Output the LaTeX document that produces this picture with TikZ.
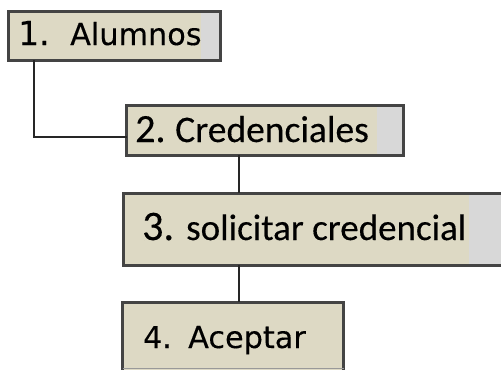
\documentclass[tikz,border=0pt]{standalone}
\usepackage{fontspec}
\setmainfont[FakeBold=0.3]{Carlito}
\newfontfamily\dvs[FakeBold=0.25]{DejaVu Sans}
\definecolor{beige}{HTML}{DDD9C4}
\definecolor{graybar}{HTML}{D8D8D8}
\definecolor{edge}{HTML}{444444}
\begin{document}
\begin{tikzpicture}[x=1pt,y=-1pt,
  box/.style={draw=edge, line width=3pt, fill=beige, inner sep=0pt, outer sep=0pt},
  grayend/.style={path picture={\fill[graybar] ([xshift=-#1]path picture bounding box.north east) rectangle (path picture bounding box.south east);}},
  link/.style={draw=black!85, line width=1.3pt},
  lbl/.style={anchor=base west, inner sep=0pt}]
\useasboundingbox (0,0) rectangle (501,370);
% boxes
\node[box, grayend=20pt, minimum width=212pt, minimum height=49pt] (b1) at (114.5,35.5) {};
\node[box, grayend=27pt, minimum width=277pt, minimum height=50pt] (b2) at (265,130) {};
\node[box, grayend=38pt, minimum width=384pt, minimum height=72pt] (b3) at (315,229) {};
\node[box, minimum width=221pt, minimum height=70pt] (b4) at (233,337) {};
\fill[white] (110,370) rectangle (360,375);
\draw[black!40, line width=1pt] (b4.west |- 0,368.5) -- (b4.east |- 0,368.5);
% connectors
\coordinate (k1) at (34,137);
\coordinate (k2) at (239,0);
\draw[link] (k1 |- b1.south) -- (k1) -- (k1 -| b2.west);
\draw[link] (k2 |- b2.south) -- (k2 |- b3.north);
\draw[link] (k2 |- b3.south) -- (k2 |- b4.north);
% labels
\node[lbl] (n1) at (18,45) {\dvs\fontsize{33}{40}\selectfont 1.};
\node[lbl] (w1) at (70,45) {\dvs\fontsize{30.3}{36}\selectfont Alumnos};
\node[lbl] (n2) at (135,142) {\fontsize{40}{46}\selectfont 2.};
\node[lbl] (w2) at (175,142) {\fontsize{37.5}{44}\selectfont Credenciales};
\node[lbl] (n3) at (142,240) {\fontsize{42}{48}\selectfont 3.};
\node[lbl] (w3) at (186,240) {\fontsize{37}{44}\selectfont solicitar credencial};
\node[lbl] (n4) at (143,348) {\dvs\fontsize{30}{36}\selectfont 4.};
\node[lbl] (w4) at (188,348) {\dvs\fontsize{30.3}{36}\selectfont Aceptar};
\end{tikzpicture}
\end{document}
